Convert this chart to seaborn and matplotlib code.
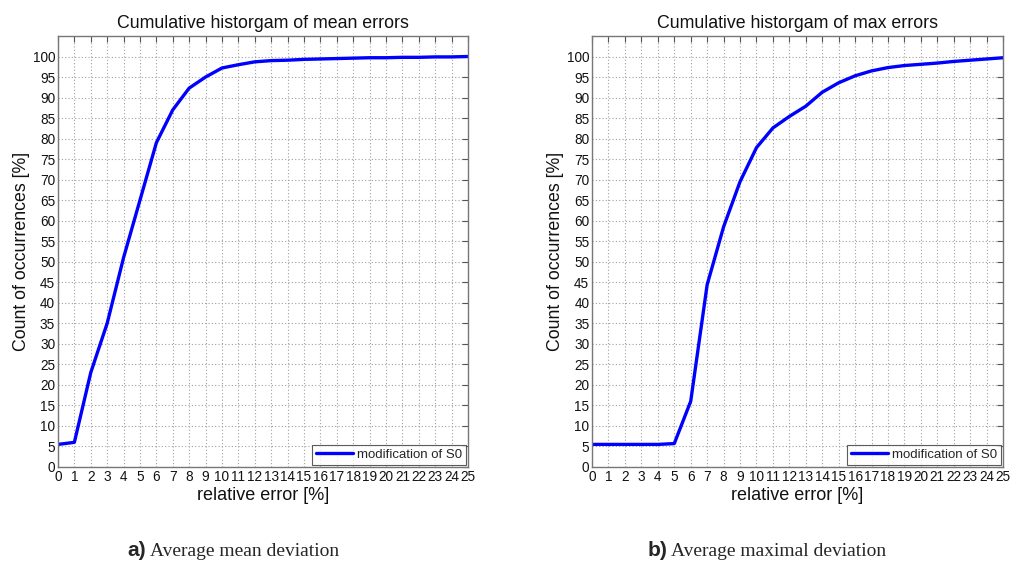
import numpy as np
import pandas as pd
import matplotlib
matplotlib.use("Agg")
import matplotlib.pyplot as plt
import seaborn as sns

# ---- data ----
err_x = list(range(0, 26))
mean_cum = [5.5, 6.0, 23.0, 35.0, 51.0, 65.0, 79.0, 87.0, 92.3, 95.0, 97.2, 98.0, 98.7,
            99.0, 99.1, 99.3, 99.4, 99.5, 99.6, 99.7, 99.7, 99.8, 99.8, 99.9, 99.9, 100.0]
max_cum = [5.5, 5.5, 5.5, 5.5, 5.5, 5.7, 16.0, 44.4, 58.5, 69.5, 77.8, 82.6, 85.4,
           87.9, 91.3, 93.6, 95.3, 96.5, 97.3, 97.8, 98.1, 98.4, 98.8, 99.1, 99.4, 99.7]
titles = ["Cumulative historgam of mean errors", "Cumulative historgam of max errors"]
caption_tags = ["a)", "b)"]
caption_texts = ["Average mean deviation", "Average maximal deviation"]
series_name = "modification of S0"
x_label = "relative error [%]"
y_label = "Count of occurrences [%]"
x_ticks = list(range(0, 26))
y_ticks = list(range(0, 101, 5))

sns.set_style("white")
plt.rcParams["font.family"] = ["Liberation Sans", "DejaVu Sans"]

fig = plt.figure(figsize=(10.15, 5.72), dpi=100)
axes_pos = [[0.0571, 0.1836, 0.4040, 0.7535], [0.5833, 0.1836, 0.4050, 0.7535]]

for i, (vals, title) in enumerate(zip([mean_cum, max_cum], titles)):
    ax = fig.add_axes(axes_pos[i])
    df = pd.DataFrame({"x": err_x, "y": vals})
    sns.lineplot(data=df, x="x", y="y", ax=ax, color="#0000ff", linewidth=2.4,
                 label=series_name)
    ax.set_xlim(0, 25)
    ax.set_ylim(0, 105)
    ax.set_xticks(x_ticks)
    ax.set_yticks(y_ticks)
    ax.tick_params(axis="both", direction="in", length=4, width=0.8, color="#555555",
                   top=True, right=True, labelsize=9.8, pad=2, labelcolor="#111111")
    ax.grid(True, linestyle=(0, (1, 2)), color="#a0a0a0", linewidth=0.8)
    for sp in ax.spines.values():
        sp.set_visible(True)
        sp.set_color("#777777")
        sp.set_linewidth(1.0)
    ax.set_title(title, fontsize=12.8, pad=6, color="#111111")
    ax.set_xlabel(x_label, fontsize=13, labelpad=2, color="#111111")
    ax.set_ylabel(y_label, fontsize=12.8, labelpad=2, color="#111111")
    leg = ax.legend(loc="lower right", fontsize=9.5, frameon=True, fancybox=False,
                    borderpad=0.3, handlelength=2.8, handletextpad=0.3,
                    borderaxespad=0.15)
    leg.get_frame().set_edgecolor("#333333")
    leg.get_frame().set_linewidth(0.8)

# captions
cap_pos = [(0.1440, 0.028), (0.6575, 0.028)]
for (cx, cy), tag, txt in zip(cap_pos, caption_tags, caption_texts):
    fig.text(cx, cy, tag, ha="right", va="baseline", fontsize=15, fontweight="bold",
             family=["Liberation Sans", "DejaVu Sans"])
    fig.text(cx + 0.004, cy, txt, ha="left", va="baseline", fontsize=14,
             family=["Liberation Serif", "DejaVu Serif"])

fig.savefig("out.png", dpi=100)
